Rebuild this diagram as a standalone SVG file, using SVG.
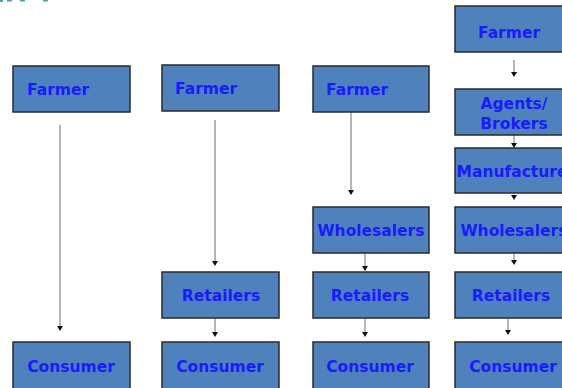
<svg xmlns="http://www.w3.org/2000/svg" width="562" height="388" viewBox="0 0 562 388">
<style>
.box{fill:#4f81bd;stroke:#2a2a2a;stroke-width:1.5}
.t{font-family:"DejaVu Sans",Verdana,sans-serif;font-weight:bold;font-size:15.5px;fill:#1a1aff;text-anchor:middle}
.s{text-anchor:start}
.c{stroke:#6e6e6e;stroke-width:1;fill:none}
.h{fill:#111}
</style>
<rect width="562" height="388" fill="#fff"/>
<g id="title-fragment" fill="#4aa3a8">
<rect x="0" y="0" width="3" height="2"/><rect x="7" y="0" width="5" height="1.5"/><rect x="20" y="0" width="5" height="1.5"/><rect x="43" y="0" width="5" height="1.5"/>
</g>
<g id="connectors">
<line class="c" x1="60" y1="125" x2="60" y2="327"/>
<path class="h" d="M57,326 L63,326 L60,331 Z"/>
<line class="c" x1="215" y1="120" x2="215" y2="262"/>
<path class="h" d="M212,261 L218,261 L215,266 Z"/>
<line class="c" x1="215" y1="318" x2="215" y2="333"/>
<path class="h" d="M212,332 L218,332 L215,337 Z"/>
<line class="c" x1="351" y1="112" x2="351" y2="191"/>
<path class="h" d="M348,190 L354,190 L351,195 Z"/>
<line class="c" x1="365" y1="253" x2="365" y2="267"/>
<path class="h" d="M362,266 L368,266 L365,271 Z"/>
<line class="c" x1="365" y1="318" x2="365" y2="333"/>
<path class="h" d="M362,332 L368,332 L365,337 Z"/>
<line class="c" x1="514" y1="60" x2="514" y2="73"/>
<path class="h" d="M511,72 L517,72 L514,77 Z"/>
<line class="c" x1="514" y1="135" x2="514" y2="143"/>
<path class="h" d="M511,143 L517,143 L514,148 Z"/>
<path class="h" d="M511,195 L517,195 L514,200 Z"/>
<line class="c" x1="514" y1="253" x2="514" y2="261"/>
<path class="h" d="M511,260 L517,260 L514,265 Z"/>
<line class="c" x1="508" y1="318" x2="508" y2="331"/>
<path class="h" d="M505,330 L511,330 L508,335 Z"/>
</g>
<g id="farmer1"><rect class="box" x="13" y="66" width="117" height="46"/><text class="t s" x="27" y="95">Farmer</text></g>
<g id="consumer1"><rect class="box" x="13" y="342" width="117" height="48"/><text class="t" x="71" y="372">Consumer</text></g>
<g id="farmer2"><rect class="box" x="162" y="65" width="117" height="46"/><text class="t s" x="175" y="94">Farmer</text></g>
<g id="retailers2"><rect class="box" x="162" y="272" width="117" height="46"/><text class="t" x="221" y="301">Retailers</text></g>
<g id="consumer2"><rect class="box" x="162" y="342" width="117" height="48"/><text class="t" x="220" y="372">Consumer</text></g>
<g id="farmer3"><rect class="box" x="313" y="66" width="116" height="46"/><text class="t s" x="326" y="95">Farmer</text></g>
<g id="wholesalers3"><rect class="box" x="313" y="207" width="116" height="46"/><text class="t" x="371" y="236">Wholesalers</text></g>
<g id="retailers3"><rect class="box" x="313" y="272" width="116" height="46"/><text class="t" x="370" y="301">Retailers</text></g>
<g id="consumer3"><rect class="box" x="313" y="342" width="116" height="48"/><text class="t" x="370" y="372">Consumer</text></g>
<g id="farmer4"><rect class="box" x="455" y="6" width="117" height="46"/><text class="t" x="509" y="38">Farmer</text></g>
<g id="agents4"><rect class="box" x="455" y="89" width="117" height="46"/><text class="t" x="514" y="109">Agents/</text><text class="t" x="514" y="129">Brokers</text></g>
<g id="manufacture4"><rect class="box" x="455" y="148" width="117" height="45"/><text class="t" x="512" y="177">Manufacture</text></g>
<g id="wholesalers4"><rect class="box" x="455" y="207" width="117" height="46"/><text class="t" x="514" y="236">Wholesalers</text></g>
<g id="retailers4"><rect class="box" x="455" y="272" width="117" height="46"/><text class="t" x="511" y="301">Retailers</text></g>
<g id="consumer4"><rect class="box" x="455" y="342" width="117" height="48"/><text class="t" x="513" y="372">Consumer</text></g>
</svg>
